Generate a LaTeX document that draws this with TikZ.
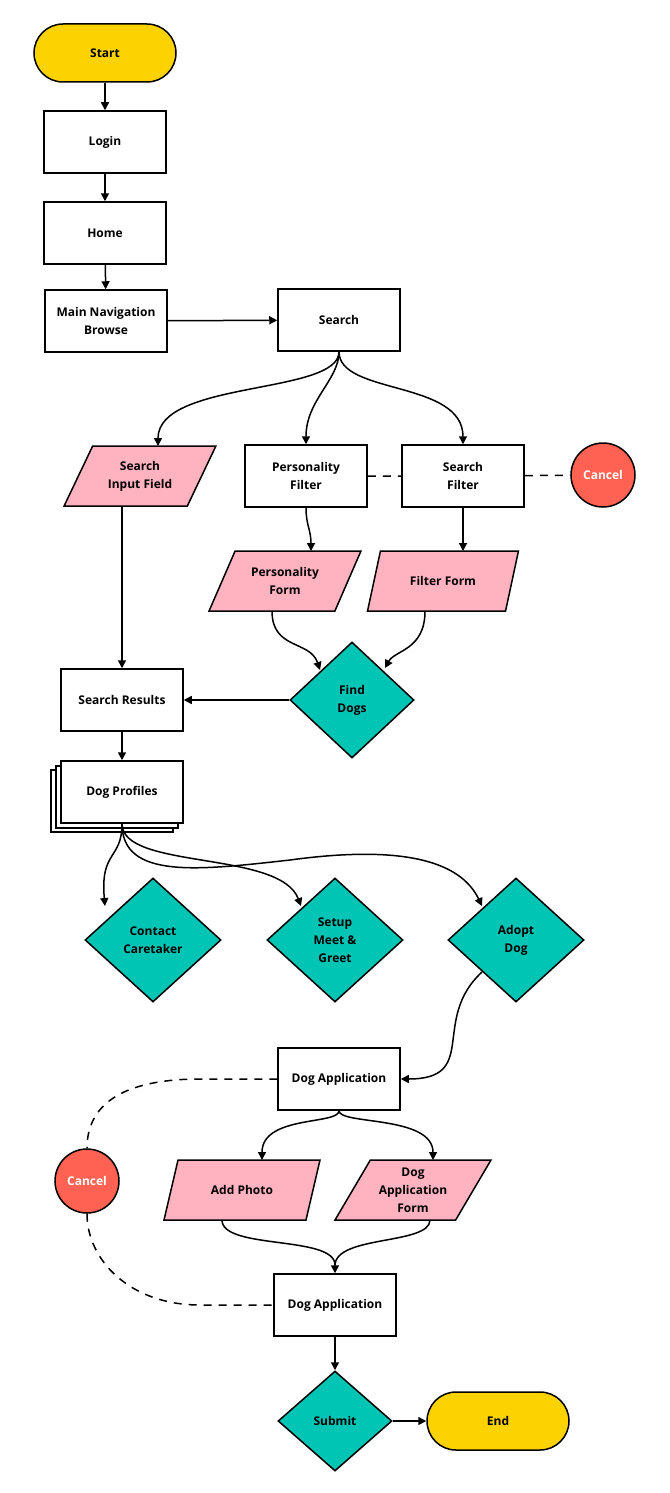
\documentclass[tikz,border=0pt]{standalone}
\usepackage{fontspec}
\setmainfont{Open Sans}
\usetikzlibrary{shapes.geometric,arrows.meta}
\definecolor{yel}{HTML}{FCD200}
\definecolor{pnk}{HTML}{FFB3C1}
\definecolor{tea}{HTML}{00C4B4}
\definecolor{rd}{HTML}{FF6252}
\begin{document}
\begin{tikzpicture}[x=1pt,y=-1pt,
 every node/.style={font=\bfseries\fontsize{12}{18}\selectfont,align=center,draw=black,line width=1.5pt,inner sep=1pt},
 box/.style={rectangle,fill=white,minimum width=122,minimum height=62},
 term/.style={rectangle,rounded corners=29pt,fill=yel,minimum width=142,minimum height=58},
 para/.style={trapezium,trapezium left angle=58,trapezium right angle=122,trapezium stretches=true,fill=pnk,minimum width=152,minimum height=60},
 dia/.style={diamond,fill=tea,minimum width=136,minimum height=124},
 circ/.style={circle,fill=rd,minimum size=64,text=white},
 ar/.style={line width=1.5pt,-{Triangle[length=8pt,width=8pt]}},
 ln/.style={line width=1.5pt},
 dsh/.style={line width=1.5pt,dash pattern=on 8pt off 7pt}]
\useasboundingbox (0,0) rectangle (669,1493);
\node[term] (start) at (105,53) {Start};
\node[box] (login) at (105,142) {Login};
\node[box] (home) at (105,233) {Home};
\node[box] (nav) at (106,321) {Main Navigation\\Browse};
\node[box] (search) at (339,320) {Search};
\node[para] (sif) at (140,476) {Search\\Input Field};
\node[box] (pf) at (306,476) {Personality\\Filter};
\node[box] (sf) at (463,476) {Search\\Filter};
\node[circ] (c1) at (603,475) {Cancel};
\node[para] (pform) at (285,581) {Personality\\Form};
\node[para] (fform) at (443,581) {Filter Form};
\node[dia,minimum width=124,minimum height=116] (find) at (352,700) {Find\\Dogs};
\node[box] (sr) at (122,700) {Search Results};
\draw[ln,fill=white] (51,770) rectangle (173,832);
\draw[ln,fill=white] (56,766) rectangle (178,828);
\node[box,minimum width=122,minimum height=62] (dp) at (122,792) {Dog Profiles};
\node[dia] (cc) at (153,940) {Contact\\Caretaker};
\node[dia] (mg) at (335,940) {Setup\\Meet \&\\Greet};
\node[dia] (ad) at (516,940) {Adopt\\Dog};
\node[box] (da) at (339,1079) {Dog Application};
\node[circ] (c2) at (87,1181) {Cancel};
\node[para,minimum width=156] (ph) at (242,1190) {Add Photo};
\node[para,minimum width=156] (daf) at (413,1190) {Dog\\Application\\Form};
\node[box] (da2) at (335,1305) {Dog Application};
\node[dia,minimum width=114,minimum height=100] (sub) at (335,1421) {Submit};
\node[term] (end) at (498,1421) {End};
\draw[ar] (start) -- (login);
\draw[ar] (login) -- (home);
\draw[ar] (home) -- (nav);
\draw[ar] (nav) -- (search);
\draw[ar] (search.south) .. controls (339,395) and (158,380) .. (158,446);
\draw[ar] (search.south) .. controls (339,380) and (306,400) .. (pf.north);
\draw[ar] (search.south) .. controls (339,395) and (463,380) .. (sf.north);
\draw[dsh] (pf) -- (sf) -- (c1);
\draw[ar] (122,506) -- (sr.north);
\draw[ar] (pf.south) .. controls (306,525) and (311,530) .. (311,551);
\draw[ar] (sf.south) -- (463,551);
\draw[ar] (272,611) .. controls (272,650) and (310,640) .. (320,670);
\draw[ar] (425,611) .. controls (425,650) and (395,650) .. (385,668);
\draw[ar] (find) -- (sr);
\draw[ar] (sr) -- (dp);
\draw[ar] (dp.south) .. controls (122,860) and (100,850) .. (105,906);
\draw[ar] (dp.south) .. controls (122,870) and (280,850) .. (301,906);
\draw[ar] (dp.south) .. controls (122,880) and (200,870) .. (290,860) .. controls (400,845) and (460,860) .. (482,906);
\draw[ar] (482,972) .. controls (430,1020) and (480,1079) .. (da.east);
\draw[dsh] (da.west) -- (200,1079) .. controls (130,1079) and (87,1100) .. (c2.north);
\draw[dsh] (c2.south) .. controls (87,1260) and (130,1305) .. (200,1305) -- (da2.west);
\draw[ar] (da.south) .. controls (339,1125) and (262,1115) .. (262,1160);
\draw[ar] (da.south) .. controls (339,1125) and (433,1115) .. (433,1160);
\draw[ln] (222,1220) .. controls (222,1250) and (335,1235) .. (335,1265);
\draw[ar] (430,1220) .. controls (430,1245) and (335,1235) .. (da2.north);
\draw[ar] (da2) -- (sub);
\draw[ar] (sub) -- (end);
\end{tikzpicture}
\end{document}
